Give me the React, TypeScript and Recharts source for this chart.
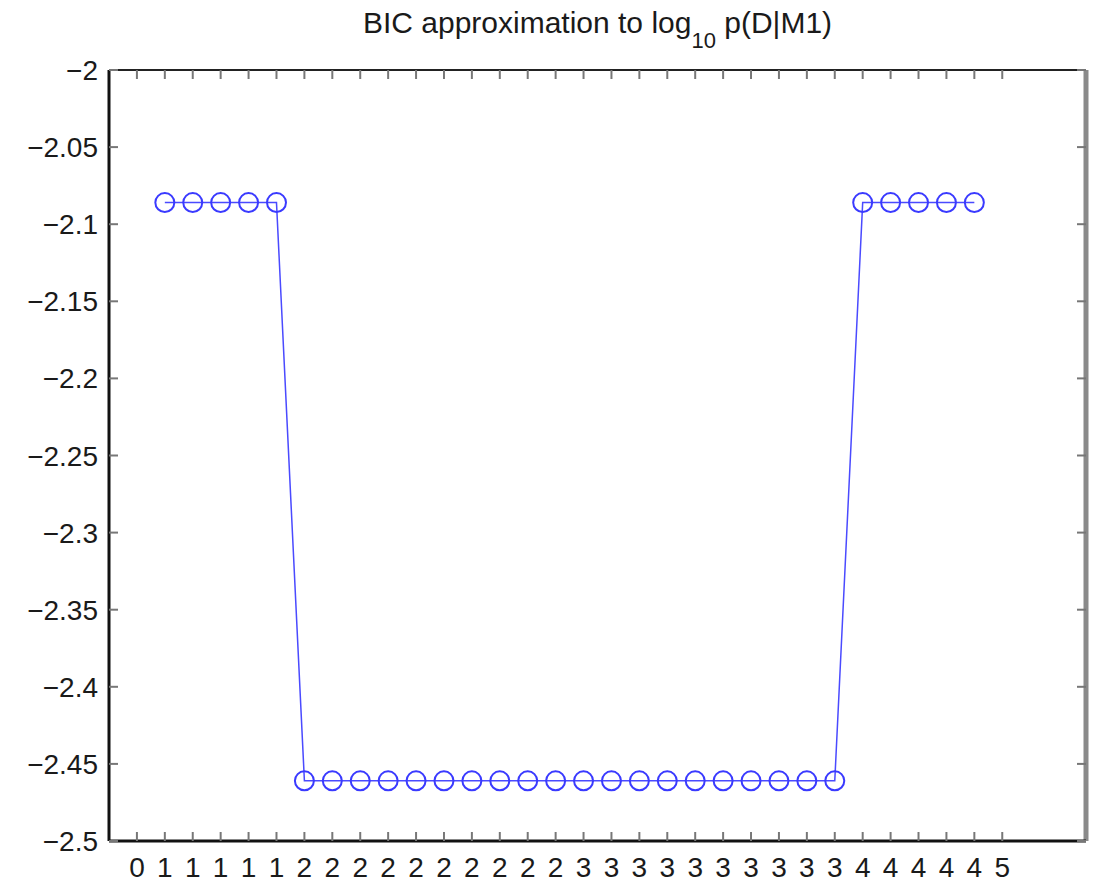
import { LineChart, Line, XAxis, YAxis, ReferenceLine } from "recharts"

// tick labels along the bottom (one per integer position 0..31)
const xTickLabels = [
  "0",
  "1", "1", "1", "1", "1",
  "2", "2", "2", "2", "2", "2", "2", "2", "2", "2",
  "3", "3", "3", "3", "3", "3", "3", "3", "3", "3",
  "4", "4", "4", "4", "4",
  "5",
]

// BIC values, one per point at positions 1..30
const bicValues = [
  -2.086, -2.086, -2.086, -2.086, -2.086,
  -2.461, -2.461, -2.461, -2.461, -2.461,
  -2.461, -2.461, -2.461, -2.461, -2.461,
  -2.461, -2.461, -2.461, -2.461, -2.461,
  -2.461, -2.461, -2.461, -2.461, -2.461,
  -2.086, -2.086, -2.086, -2.086, -2.086,
]

const yTicks = [-2.5, -2.45, -2.4, -2.35, -2.3, -2.25, -2.2, -2.15, -2.1, -2.05, -2]

const xTicks = xTickLabels.map((_, i) => i)
const data = bicValues.map((v, i) => ({ x: i + 1, bic: v }))

const W = 1094
const H = 882
const margin = { top: 70, right: 8, bottom: 0, left: 0 }
const Y_AXIS_W = 109
const X_AXIS_H = 41
const plotLeft = margin.left + Y_AXIS_W
const plotRight = W - margin.right
const plotTop = margin.top
const plotBottom = H - margin.bottom - X_AXIS_H

const FONT = '"Liberation Sans", Arial, Helvetica, sans-serif'
const TICK_LEN = 9
const TICK_COLOR = "#777"

const fmtY = (v: number) => {
  const s = String(Number(v.toFixed(2)))
  return s.replace("-", "\u2212")
}

function YTick(props: any) {
  const { x, y, payload } = props
  return (
    <g>
      <line x1={plotLeft} x2={plotLeft + TICK_LEN} y1={y} y2={y} stroke={TICK_COLOR} strokeWidth={2} />
      <line x1={plotRight - TICK_LEN} x2={plotRight} y1={y} y2={y} stroke={TICK_COLOR} strokeWidth={2} />
      <text x={x} y={y} dy="0.36em" textAnchor="end" fontSize={28} fontFamily={FONT} fill="#1a1a1a">
        {fmtY(payload.value)}
      </text>
    </g>
  )
}

function XTick(props: any) {
  const { x, payload } = props
  return (
    <g>
      <line x1={x} x2={x} y1={plotBottom} y2={plotBottom - TICK_LEN} stroke={TICK_COLOR} strokeWidth={2} />
      <line x1={x} x2={x} y1={plotTop} y2={plotTop + TICK_LEN} stroke={TICK_COLOR} strokeWidth={2} />
      <text x={x} y={plotBottom + 36} textAnchor="middle" fontSize={28} fontFamily={FONT} fill="#1a1a1a">
        {xTickLabels[payload.value]}
      </text>
    </g>
  )
}

export default function App() {
  return (
    <div style={{ position: "absolute", left: 0, top: 0, background: "#fff" }}>
      <LineChart width={W} height={H} data={data} margin={margin}>
        <text
          x={(plotLeft + plotRight) / 2}
          y={33}
          textAnchor="middle"
          fontSize={30}
          fontFamily={FONT}
          fill="#1a1a1a"
        >
          BIC approximation to log
          <tspan dy={15} fontSize={22}>10</tspan>
          <tspan dy={-15}> p(D|M1)</tspan>
        </text>
        <XAxis
          type="number"
          dataKey="x"
          domain={[-1, 34]}
          ticks={xTicks}
          interval={0}
          height={X_AXIS_H}
          axisLine={{ stroke: "#111", strokeWidth: 3 }}
          tickLine={false}
          tick={<XTick />}
        />
        <YAxis
          type="number"
          domain={[-2.5, -2]}
          ticks={yTicks}
          interval={0}
          width={Y_AXIS_W}
          axisLine={{ stroke: "#111", strokeWidth: 3 }}
          tickLine={false}
          tickSize={0}
          tickMargin={11}
          tick={<YTick />}
        />
        <ReferenceLine y={-2} stroke="#222" strokeWidth={2} />
        <ReferenceLine x={34} stroke="#8a8a8a" strokeWidth={5} />
        <Line
          type="linear"
          dataKey="bic"
          stroke="#4a4aff"
          strokeWidth={1.5}
          dot={{ r: 9.5, stroke: "#3a3aff", strokeWidth: 2, fill: "none" }}
          activeDot={false}
          isAnimationActive={false}
        />
      </LineChart>
    </div>
  )
}
